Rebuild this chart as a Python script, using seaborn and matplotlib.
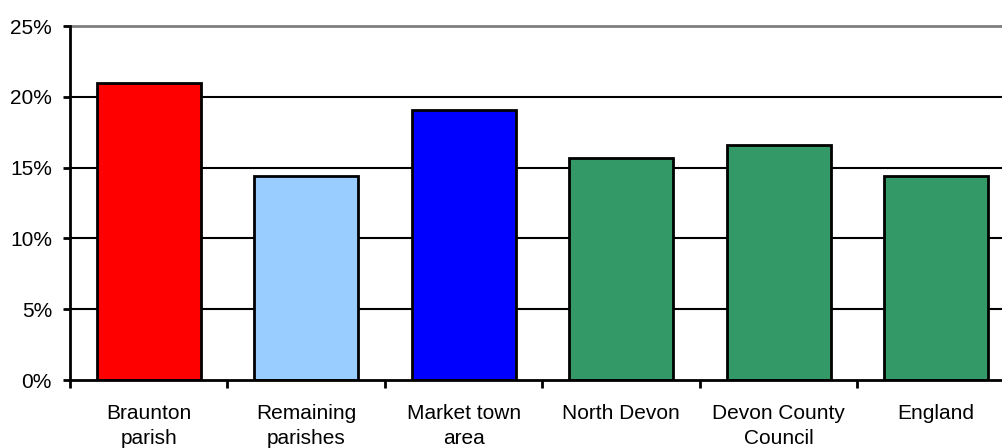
import pandas as pd
import numpy as np
import matplotlib.pyplot as plt
import seaborn as sns

# Datos
categorias = ['Braunton\nparish', 'Remaining\nparishes', 'Market town\narea',
              'North Devon', 'Devon County\nCouncil', 'England']
valores = [21.0, 14.4, 19.1, 15.7, 16.6, 14.4]
colores = ['#FF0000', '#99CCFF', '#0000FF', '#339966', '#339966', '#339966']
ticks_y = [0, 5, 10, 15, 20, 25]


def main():
    df = pd.DataFrame({'Area': categorias, 'Pct': valores})

    sns.set_theme(style="white")
    plt.rcParams['font.family'] = ['Liberation Sans', 'DejaVu Sans']

    fig = plt.figure(figsize=(10.03, 4.48), dpi=100)
    ax = fig.add_axes([70 / 1003, 68 / 448, 945 / 1003, 354 / 448])

    # lineas de cuadricula negras
    for v in ticks_y[1:-1]:
        ax.axhline(v, color='black', lw=1.5, zorder=0)

    sns.barplot(data=df, x='Area', y='Pct', hue='Area', palette=colores,
                legend=False, width=0.66, edgecolor='black', linewidth=2,
                saturation=1, ax=ax, zorder=2)

    ax.set_xlim(-0.5, len(categorias) - 0.5)
    ax.set_ylim(0, 25)
    ax.set_yticks(ticks_y)
    ax.set_yticklabels([f'{t}%' for t in ticks_y])
    ax.set_xlabel('')
    ax.set_ylabel('')

    # bordes
    for lado in ['left', 'bottom']:
        ax.spines[lado].set_color('black')
        ax.spines[lado].set_linewidth(2)
        ax.spines[lado].set_zorder(3)
    for lado in ['top', 'right']:
        ax.spines[lado].set_color('#808080')
        ax.spines[lado].set_linewidth(2)

    # ticks: marcas en los limites de categorias
    ax.set_xticks(np.arange(-0.5, len(categorias), 1.0), minor=True)
    ax.tick_params(axis='x', which='major', length=0, pad=17.5, labelsize=15,
                   labelcolor='black')
    ax.tick_params(axis='x', which='minor', length=5.5, width=2,
                   color='black', direction='out', bottom=True)
    ax.tick_params(axis='y', which='major', length=5, width=2,
                   color='black', direction='out', left=True, pad=8,
                   labelsize=15, labelcolor='black')
    for lbl in ax.get_xticklabels():
        lbl.set_verticalalignment('top')
        lbl.set_linespacing(1.4)

    fig.savefig('out.png', dpi=100)
    plt.close(fig)


if __name__ == "__main__":
    main()
